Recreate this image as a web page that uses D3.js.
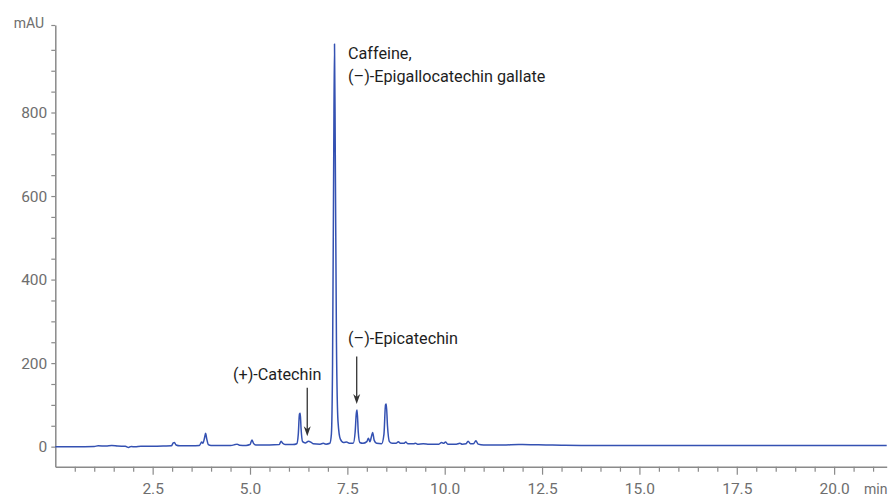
<!DOCTYPE html>
<html>
<head>
<meta charset="utf-8">
<script src="https://cdn.jsdelivr.net/npm/d3@7/dist/d3.min.js"></script>
<style>
  html, body { margin: 0; padding: 0; background: #fff; }
  svg { display: block; }
  text { font-family: Roboto, "Liberation Sans", Arial, sans-serif; }
</style>
</head>
<body>
<svg id="chart" width="893" height="497"></svg>
<script>
// ---- Data (time in min, absorbance in mAU) ----
const times = [
  0, 0.5, 1.0, 1.1, 1.3, 1.45, 1.6, 1.8, 1.88, 1.95, 2.05, 2.2, 2.5, 2.8, 2.98,
  3.03, 3.06, 3.1, 3.2, 3.5, 3.7, 3.76, 3.79, 3.83, 3.86, 3.89, 3.93, 4.0,
  4.5, 4.62, 4.67, 4.73, 4.9, 5.0, 5.05, 5.09, 5.15, 5.5, 5.75, 5.8, 5.84, 5.9,
  6.1, 6.2, 6.24, 6.27, 6.29, 6.31, 6.35, 6.42, 6.5, 6.56, 6.62, 6.8, 6.88, 6.95,
  7.05, 7.09, 7.12, 7.15, 7.17, 7.19, 7.22, 7.26, 7.32, 7.4, 7.48, 7.55, 7.65,
  7.7, 7.73, 7.75, 7.78, 7.82, 7.9, 8.0, 8.04, 8.08, 8.12, 8.15, 8.19, 8.25,
  8.38, 8.44, 8.48, 8.5, 8.53, 8.58, 8.65, 8.75, 8.81, 8.86, 8.95, 9.0, 9.05,
  9.2, 9.25, 9.3, 9.45, 9.6, 9.85, 9.92, 9.97, 10.02, 10.08, 10.3, 10.39, 10.45,
  10.55, 10.6, 10.66, 10.74, 10.8, 10.86, 11.0, 11.5, 11.9, 12.0, 12.3, 12.6,
  13.0, 13.5, 14.0, 16.0, 18.0, 20.0, 21.35
];
const signal = [
  0, 0, 0.5, 2, 1.5, 2.5, 1.5, 1, -2, 0.5, -0.5, 1, 1, 1.5, 2,
  9, 10, 4, 2, 2, 3, 11, 8, 20, 32, 18, 5, 3,
  3, 5, 6, 3.5, 3, 5, 16, 8, 4, 4, 5, 13, 8, 5,
  5, 7, 30, 78, 80, 45, 12, 9, 13, 11, 7, 6, 8, 6,
  8, 30, 200, 700, 964, 700, 250, 60, 18, 10, 11, 8, 8,
  35, 80, 88, 35, 10, 8, 12, 20, 12, 25, 34, 15, 8,
  7, 30, 100, 102, 50, 12, 8, 8, 12, 8, 8, 11, 7,
  7, 8, 6, 7, 6, 6, 10, 8, 11, 6, 6, 8, 6,
  7, 13, 7, 7, 14, 6, 4, 4, 5, 5, 4.5, 4,
  3.5, 3, 2.5, 2.5, 2.5, 2.5, 2.5
];

// Axis ticks
const xMajorTicks = [2.5, 5.0, 7.5, 10.0, 12.5, 15.0, 17.5, 20.0];
const xMinorTicks = [0.5, 1, 1.5, 2, 3, 3.5, 4, 4.5, 5.5, 6, 6.5, 7, 8, 8.5, 9, 9.5,
  10.5, 11, 11.5, 12, 13, 13.5, 14, 14.5, 15.5, 16, 16.5, 17, 18, 18.5, 19, 19.5, 20.5, 21];
const yMajorTicks = [0, 200, 400, 600, 800];
const yMinorTicks = [50, 100, 150, 250, 300, 350, 450, 500, 550, 650, 700, 750, 850, 900, 950];

// Peak annotations
const labelNames = ["(+)-Catechin", "(\u2013)-Epicatechin"];
const labelTimes = [6.47, 7.74];
const labelTipValues = [25, 102];
const labelTailValues = [141, 216];

const caffeineLines = ["Caffeine,", "(\u2013)-Epigallocatechin gallate"];

// ---- Layout ----
const svg = d3.select("#chart");
const x = d3.scaleLinear().domain([0, 21.35]).range([55.3, 886.7]);
const y = d3.scaleLinear().domain([-48, 1009.5]).range([466.7, 25]);

const axisColor = "#8a8a8a";
const tickTextColor = "#6e6e6e";
const labelFont = "16.2px";

// X axis
const gx = svg.append("g").attr("transform", `translate(0,${y.range()[0]})`);
gx.append("g").call(d3.axisBottom(x).tickValues(xMinorTicks).tickSize(5).tickFormat(""));
gx.append("g").call(d3.axisBottom(x).tickValues(xMajorTicks).tickSizeInner(8).tickSizeOuter(0)
  .tickPadding(8).tickFormat(d3.format(".1f")));
gx.selectAll("path.domain").attr("stroke", axisColor).attr("stroke-width", 1.5);
gx.selectAll(".tick line").attr("stroke", axisColor).attr("stroke-width", 1.2);
gx.selectAll(".tick text").attr("fill", tickTextColor).style("font-size", "15.5px");
gx.select("g:first-child path.domain").remove();

svg.append("text").attr("x", 864).attr("y", 494).attr("fill", tickTextColor)
  .style("font-size", "14px").text("min");

// Y axis
const gy = svg.append("g").attr("transform", `translate(${x.range()[0]},0)`);
gy.append("g").call(d3.axisLeft(y).tickValues(yMinorTicks.concat([y.domain()[1]])).tickSize(4).tickFormat(""));
gy.append("g").call(d3.axisLeft(y).tickValues(yMajorTicks).tickSizeInner(4).tickSizeOuter(0)
  .tickPadding(4).tickFormat(d3.format("d")));
gy.selectAll("path.domain").attr("stroke", axisColor).attr("stroke-width", 1.5);
gy.selectAll(".tick line").attr("stroke", axisColor).attr("stroke-width", 1.2);
gy.selectAll(".tick text").attr("fill", tickTextColor).style("font-size", "15.5px");
gy.select("g:first-child path.domain").remove();

svg.append("text").attr("x", 44).attr("y", 28).attr("text-anchor", "end")
  .attr("fill", tickTextColor).style("font-size", "14px").text("mAU");

// Chromatogram trace
const pts = times.map((t, i) => [t, signal[i]]);
const line = d3.line().x(d => x(d[0])).y(d => y(d[1])).curve(d3.curveMonotoneX);
svg.append("path").datum(pts)
  .attr("d", line)
  .attr("fill", "none")
  .attr("stroke", "#3451b2")
  .attr("stroke-width", 1.5)
  .attr("stroke-linejoin", "round");

// Caffeine / EGCG label
const capX = x(7.17) + 13.5;
const cap = svg.append("text").attr("fill", "#1e1e1e").style("font-size", labelFont);
caffeineLines.forEach((s, i) => {
  cap.append("tspan").attr("x", capX).attr("y", 59 + i * 23).text(s);
});

// Arrow annotations (shaft + arrowhead pointing down)
labelNames.forEach((name, i) => {
  const ax = x(labelTimes[i]);
  const yTail = y(labelTailValues[i]);
  const yTip = y(labelTipValues[i]);
  svg.append("line")
    .attr("x1", ax).attr("x2", ax)
    .attr("y1", yTail).attr("y2", yTip - 4)
    .attr("stroke", "#333").attr("stroke-width", 1.3);
  svg.append("path")
    .attr("d", `M${ax - 3.5},${yTip - 10} L${ax},${yTip} L${ax + 3.5},${yTip - 10} L${ax},${yTip - 7} Z`)
    .attr("fill", "#333");
});

svg.append("text").attr("x", 233).attr("y", 380).attr("fill", "#1e1e1e")
  .style("font-size", labelFont).text(labelNames[0]);
svg.append("text").attr("x", 348).attr("y", 344).attr("fill", "#1e1e1e")
  .style("font-size", labelFont).text(labelNames[1]);
</script>
</body>
</html>
